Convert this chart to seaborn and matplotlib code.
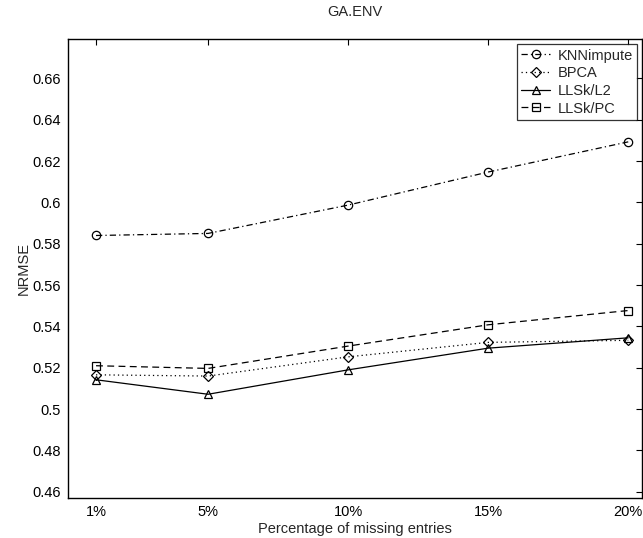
import matplotlib
matplotlib.use("Agg")
import matplotlib.pyplot as plt
import seaborn as sns
import pandas as pd

sns.set_theme(style="white")
plt.rcParams['font.family'] = ['Liberation Sans', 'DejaVu Sans']

missing_pct = [1, 5, 10, 15, 20]
x_labels = ['1%', '5%', '10%', '15%', '20%']
knn = [0.584, 0.585, 0.5987, 0.6147, 0.6293]
bpca = [0.5166, 0.516, 0.5253, 0.5323, 0.5333]
llsk_l2 = [0.5142, 0.5072, 0.519, 0.5295, 0.5345]
llsk_pc = [0.521, 0.5197, 0.5305, 0.5408, 0.5477]
y_ticks = [0.46, 0.48, 0.5, 0.52, 0.54, 0.56, 0.58, 0.6, 0.62, 0.64, 0.66]
y_tick_labels = ['0.46', '0.48', '0.5', '0.52', '0.54', '0.56', '0.58', '0.6', '0.62', '0.64', '0.66']

series = [
    ('KNNimpute', knn, 'o', (5, 2.5, 1, 2.5)),
    ('BPCA', bpca, 'D', (1, 2.5)),
    ('LLSk/L2', llsk_l2, '^', None),
    ('LLSk/PC', llsk_pc, 's', (5.5, 3.5)),
]

fig = plt.figure(figsize=(6.43, 5.38), dpi=100)
ax = fig.add_axes([0.1058, 0.0743, 0.893, 0.853])

for name, vals, mk, dash in series:
    df = pd.DataFrame({'x': missing_pct, 'y': vals})
    ms = 5 if mk == 'D' else 6
    sns.lineplot(data=df, x='x', y='y', ax=ax, color='black', marker=mk,
                 markersize=ms, markerfacecolor='none', markeredgecolor='black',
                 markeredgewidth=0.9, linewidth=0.9, label=name)
    line = ax.get_lines()[-1]
    if dash is None:
        line.set_linestyle('-')
    else:
        line.set_dashes(dash)

ax.set_xlim(0, 20.5)
ax.set_ylim(0.457, 0.679)
ax.set_xticks(missing_pct)
ax.set_xticklabels(x_labels)
ax.set_yticks(y_ticks)
ax.set_yticklabels(y_tick_labels)
ax.tick_params(direction='in', length=4, width=0.8, top=True, right=True,
               labelsize=10.5, colors='black', pad=5)
for s in ax.spines.values():
    s.set_color('black')
    s.set_linewidth(1.0)
ax.set_xlabel('Percentage of missing entries', fontsize=10.5, labelpad=2)
ax.set_ylabel('NRMSE', fontsize=10.5, labelpad=1)
ax.set_title('GA.ENV', fontsize=10.5, pad=17)

leg = ax.legend(loc='upper right', fontsize=10.5, frameon=True, fancybox=False,
                edgecolor='black', borderaxespad=0.35, handlelength=2.0,
                borderpad=0.3, labelspacing=0.25, handletextpad=0.5)
leg.get_frame().set_linewidth(0.9)

fig.savefig('out.png', dpi=100)
